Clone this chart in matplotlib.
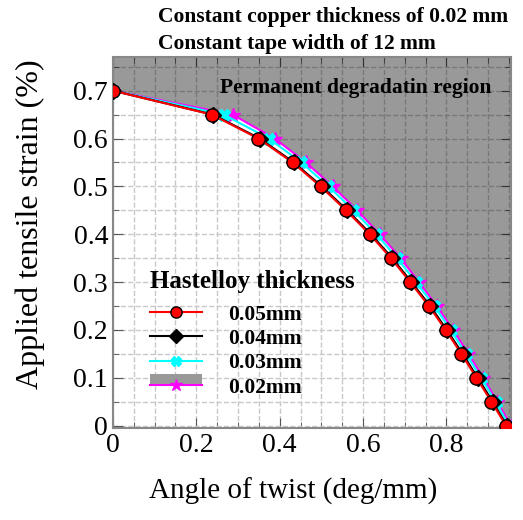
import numpy as np
import matplotlib as mpl
import matplotlib.pyplot as plt
from matplotlib.patches import Rectangle
from matplotlib.lines import Line2D
from matplotlib.legend_handler import HandlerBase
from matplotlib.ticker import MultipleLocator, FuncFormatter

mpl.rcParams['font.family'] = 'serif'
mpl.rcParams['font.serif'] = ['Liberation Serif', 'DejaVu Serif']

# strain levels (%) shared by every series
strain = [0.70, 0.65, 0.60, 0.55, 0.50, 0.45, 0.40, 0.35, 0.30, 0.25, 0.20, 0.15, 0.10, 0.05, 0.0]
# angle of twist (deg/mm) for each hastelloy thickness
twist_005 = [0, 0.237, 0.349, 0.431, 0.498, 0.559, 0.616, 0.667, 0.713, 0.758, 0.798, 0.836, 0.872, 0.908, 0.943]
twist_004 = [0, 0.240, 0.352, 0.434, 0.501, 0.562, 0.619, 0.670, 0.716, 0.761, 0.801, 0.839, 0.875, 0.911, 0.945]
twist_003 = [0, 0.266, 0.374, 0.452, 0.517, 0.577, 0.632, 0.682, 0.727, 0.771, 0.810, 0.847, 0.883, 0.918, 0.950]
twist_002 = [0, 0.287, 0.388, 0.463, 0.527, 0.586, 0.640, 0.690, 0.734, 0.777, 0.816, 0.853, 0.888, 0.922, 0.955]
labels = ['0.05mm', '0.04mm', '0.03mm', '0.02mm']

xmax, ymin, ymax = 0.955, -0.005, 0.77
gray = '#999999'


class FillLineHandler(HandlerBase):
    # gray box sitting on top of the magenta line, like the original legend
    def create_artists(self, legend, orig_handle, xdescent, ydescent, width, height, fontsize, trans):
        ymid = -ydescent + height * 0.5
        box = Rectangle((-xdescent, ymid), width, height * 0.75, facecolor=gray,
                        edgecolor='none', transform=trans)
        ln = Line2D([-xdescent, -xdescent + width], [ymid, ymid], color='magenta', lw=1.5, transform=trans)
        mk = Line2D([-xdescent + width / 2], [ymid], marker='*', color='magenta', ms=9,
                    ls='none', transform=trans)
        return [box, ln, mk]


fig = plt.figure(figsize=(5.23, 5.2), dpi=100)
ax = fig.add_axes([0.216, 0.177, 0.761, 0.713])

# permanent degradation region (above the thinnest tape curve)
px = list(twist_002) + [xmax, xmax, 0]
py = list(strain) + [ymin, ymax, ymax]
ax.fill(px, py, color='k', alpha=0.4, lw=0, zorder=2)

l2, = ax.plot(twist_002, strain, '-', color='magenta', marker='*', ms=10, mec='magenta', lw=1.5, zorder=3)
l3, = ax.plot(twist_003, strain, '-', color='cyan', marker='X', ms=8, mec='cyan', lw=1.5, zorder=4)
l4, = ax.plot(twist_004, strain, '-', color='k', marker='D', ms=8, mec='k', lw=1.5, zorder=5)
l5, = ax.plot(twist_005, strain, '-', color='red', marker='o', ms=9.5, mec='k', mew=1, lw=1.5, zorder=6)

ax.set_xlim(0, xmax)
ax.set_ylim(ymin, ymax)
ax.xaxis.set_major_locator(MultipleLocator(0.2))
ax.xaxis.set_minor_locator(MultipleLocator(0.05))
ax.yaxis.set_major_locator(MultipleLocator(0.1))
ax.yaxis.set_minor_locator(MultipleLocator(0.05))
fmt = FuncFormatter(lambda v, p: '0' if abs(v) < 1e-9 else '%g' % round(v, 2))
ax.xaxis.set_major_formatter(fmt)
ax.yaxis.set_major_formatter(fmt)
ax.grid(True, which='both', ls='--', color='#c8c8c8', lw=1, zorder=1)
ax.set_axisbelow(True)
ax.tick_params(which='both', direction='in', top=True, right=True, color='#555555', labelsize=20)
ax.tick_params(which='major', length=7)
ax.tick_params(which='minor', length=4)
for s in ax.spines.values():
    s.set_color('#888888')
    s.set_linewidth(1.5)

ax.set_xlabel('Angle of twist (deg/mm)', fontsize=21)
ax.xaxis.set_label_coords(0.452, -0.135)
ax.set_ylabel('Applied tensile strain (%)', fontsize=23)
ax.yaxis.set_label_coords(-0.17, 0.55)

ax.text(0.952, 0.916, 'Permanent degradatin region', transform=ax.transAxes, fontsize=15.5,
        fontweight='bold', ha='right', va='center', zorder=7)
fig.text(0.302, 0.967, 'Constant copper thickness of 0.02 mm', fontsize=15.5, fontweight='bold',
         ha='left', va='center')
fig.text(0.302, 0.915, 'Constant tape width of 12 mm', fontsize=15.5, fontweight='bold',
         ha='left', va='center')

leg = ax.legend([l5, l4, l3, l2], labels, title='Hastelloy thickness',
                handler_map={l2: FillLineHandler()},
                loc='upper left', bbox_to_anchor=(0.093, 0.425), borderaxespad=0, borderpad=0,
                frameon=False, prop={'size': 15.5, 'weight': 'bold'}, markerscale=0.85,
                handlelength=2.4, handletextpad=1.25, labelspacing=0.2)
leg.get_title().set_fontsize(18)
leg.get_title().set_fontweight('bold')
leg._legend_box.align = 'left'
leg._legend_box.sep = 8
leg.set_zorder(8)

fig.savefig('out.png', dpi=100)
